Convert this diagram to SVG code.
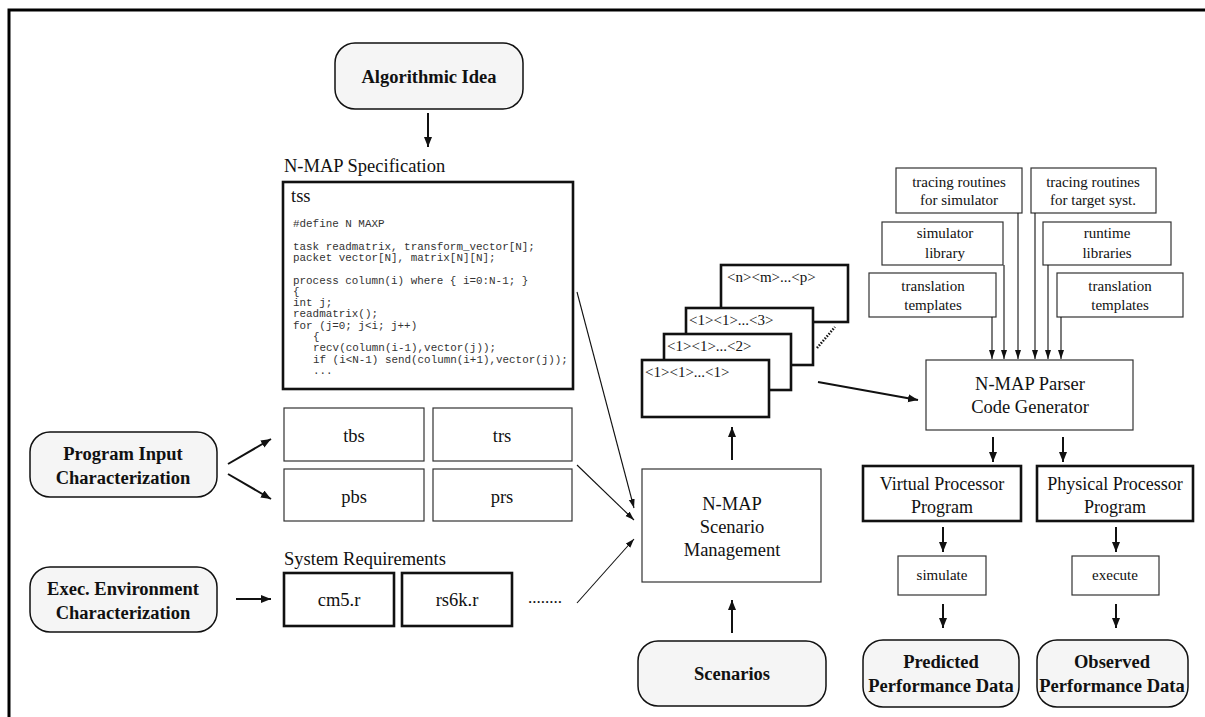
<svg xmlns="http://www.w3.org/2000/svg" width="1205" height="717" viewBox="0 0 1205 717">
<style>
.t{font-family:"Liberation Serif","Times New Roman",serif;fill:#111;}
.b{font-weight:bold;font-size:18.5px;}
.n{font-size:18.5px;}
.s{font-size:15px;}
.code{font-family:"Liberation Mono","Courier New",monospace;font-size:10.9px;fill:#333;}
.rb{fill:#f5f5f5;stroke:#111;stroke-width:1.5;}
.pb{fill:#fff;stroke:#333;stroke-width:1.2;}
.tb{fill:#fff;stroke:#111;stroke-width:2.6;}
.c1{stroke:#111;stroke-width:1.1;fill:none;}
.c2{stroke:#111;stroke-width:2;fill:none;}
</style>
<defs>
<marker id="ah" markerUnits="userSpaceOnUse" markerWidth="11" markerHeight="9" refX="10" refY="4" orient="auto"><path d="M0,0 L10,4 L0,8 z" fill="#111"/></marker>
<marker id="ahs" markerUnits="userSpaceOnUse" markerWidth="10" markerHeight="7" refX="9" refY="3" orient="auto"><path d="M0,0 L9,3 L0,6 z" fill="#111"/></marker>
</defs>
<rect width="1205" height="717" fill="#fff"/>
<path d="M9,717 L9,10 L1205,10" fill="none" stroke="#000" stroke-width="3"/>

<g id="algorithmic-idea">
<rect class="rb" x="335" y="43" width="188" height="66" rx="20"/>
<text class="t b" x="429" y="83" text-anchor="middle">Algorithmic Idea</text>
</g>

<g id="nmap-spec">
<text class="t n" x="284" y="172">N-MAP Specification</text>
<rect class="tb" x="283" y="182" width="290" height="207"/>
<text class="t" x="291" y="202" font-size="18.5">tss</text>
<text class="code" x="293" y="227">#define N MAXP</text>
<text class="code" x="293" y="249.6">task readmatrix, transform_vector[N];</text>
<text class="code" x="293" y="260.9">packet vector[N], matrix[N][N];</text>
<text class="code" x="293" y="283.5">process column(i) where { i=0:N-1; }</text>
<text class="code" x="293" y="294.8">{</text>
<text class="code" x="293" y="306.1">int j;</text>
<text class="code" x="293" y="317.4">readmatrix();</text>
<text class="code" x="293" y="328.7">for (j=0; j&lt;i; j++)</text>
<text class="code" x="313" y="340">{</text>
<text class="code" x="313" y="351.3">recv(column(i-1),vector(j));</text>
<text class="code" x="313" y="362.6">if (i&lt;N-1) send(column(i+1),vector(j));</text>
<text class="code" x="313" y="373.9">...</text>
</g>

<g id="tbs"><rect class="pb" x="284" y="408" width="140" height="53"/><text class="t n" x="354" y="442" text-anchor="middle">tbs</text></g>
<g id="trs"><rect class="pb" x="433" y="408" width="139" height="53"/><text class="t n" x="502" y="442" text-anchor="middle">trs</text></g>
<g id="pbs"><rect class="pb" x="284" y="469" width="140" height="52"/><text class="t n" x="354" y="503" text-anchor="middle">pbs</text></g>
<g id="prs"><rect class="pb" x="433" y="469" width="139" height="52"/><text class="t n" x="502" y="503" text-anchor="middle">prs</text></g>

<g id="program-input">
<rect class="rb" x="30" y="432" width="187" height="65" rx="20"/>
<text class="t b" x="123" y="460" text-anchor="middle">Program Input</text>
<text class="t b" x="123" y="484" text-anchor="middle">Characterization</text>
</g>

<g id="exec-env">
<rect class="rb" x="30" y="567" width="187" height="65" rx="20"/>
<text class="t b" x="123" y="595" text-anchor="middle">Exec. Environment</text>
<text class="t b" x="123" y="619" text-anchor="middle">Characterization</text>
</g>

<g id="system-requirements">
<text class="t n" x="284" y="565">System Requirements</text>
</g>
<g id="cm5"><rect class="tb" x="284" y="573" width="110" height="53"/><text class="t n" x="339" y="606" text-anchor="middle">cm5.r</text></g>
<g id="rs6k"><rect class="tb" x="402" y="573" width="110" height="53"/><text class="t n" x="457" y="606" text-anchor="middle">rs6k.r</text></g>
<g id="more-req"><text class="t" x="528" y="603" font-size="17">........</text></g>

<g id="scenario-mgmt">
<rect class="pb" x="642" y="469" width="179" height="113"/>
<text class="t n" x="732" y="510" text-anchor="middle">N-MAP</text>
<text class="t n" x="732" y="533" text-anchor="middle">Scenario</text>
<text class="t n" x="732" y="556" text-anchor="middle">Management</text>
</g>

<g id="scenarios">
<rect class="rb" x="638" y="641" width="188" height="65" rx="20"/>
<text class="t b" x="732" y="680" text-anchor="middle">Scenarios</text>
</g>

<g id="scenario-stack">
<rect class="tb" x="721" y="265" width="127" height="57"/>
<text class="t s" x="727" y="282">&lt;n&gt;&lt;m&gt;...&lt;p&gt;</text>
<rect class="tb" x="686" y="308" width="127" height="57"/>
<text class="t s" x="689" y="325">&lt;1&gt;&lt;1&gt;...&lt;3&gt;</text>
<rect class="tb" x="664" y="334" width="127" height="56"/>
<text class="t s" x="667" y="351">&lt;1&gt;&lt;1&gt;...&lt;2&gt;</text>
<rect class="tb" x="642" y="360" width="127" height="57"/>
<text class="t s" x="645" y="377">&lt;1&gt;&lt;1&gt;...&lt;1&gt;</text>
<line x1="817" y1="348" x2="835" y2="327" stroke="#111" stroke-width="2.5" stroke-dasharray="1.5,1.5"/>
</g>

<g id="trace-sim"><rect class="pb" x="896" y="168" width="126" height="45"/><text class="t s" x="959" y="187" text-anchor="middle">tracing routines</text><text class="t s" x="959" y="205" text-anchor="middle">for simulator</text></g>
<g id="trace-target"><rect class="pb" x="1031" y="168" width="125" height="45"/><text class="t s" x="1093" y="187" text-anchor="middle">tracing routines</text><text class="t s" x="1093" y="205" text-anchor="middle">for target syst.</text></g>
<g id="sim-lib"><rect class="pb" x="882" y="222" width="121" height="43"/><text class="t s" x="945" y="238" text-anchor="middle">simulator</text><text class="t s" x="945" y="258" text-anchor="middle">library</text></g>
<g id="runtime-lib"><rect class="pb" x="1043" y="222" width="128" height="43"/><text class="t s" x="1107" y="238" text-anchor="middle">runtime</text><text class="t s" x="1107" y="258" text-anchor="middle">libraries</text></g>
<g id="templates-left"><rect class="pb" x="869" y="273" width="127" height="44"/><text class="t s" x="933" y="291" text-anchor="middle">translation</text><text class="t s" x="933" y="310" text-anchor="middle">templates</text></g>
<g id="templates-right"><rect class="pb" x="1057" y="273" width="126" height="44"/><text class="t s" x="1120" y="291" text-anchor="middle">translation</text><text class="t s" x="1120" y="310" text-anchor="middle">templates</text></g>

<g id="parser">
<rect class="pb" x="926" y="360" width="207" height="70"/>
<text class="t n" x="1030" y="390" text-anchor="middle">N-MAP Parser</text>
<text class="t n" x="1030" y="413" text-anchor="middle">Code Generator</text>
</g>

<g id="virtual-proc"><rect class="tb" x="863" y="466" width="158" height="55"/><text class="t" font-size="18" x="942" y="490" text-anchor="middle">Virtual Processor</text><text class="t" font-size="18" x="942" y="513" text-anchor="middle">Program</text></g>
<g id="physical-proc"><rect class="tb" x="1037" y="466" width="156" height="55"/><text class="t" font-size="18" x="1115" y="490" text-anchor="middle">Physical Processor</text><text class="t" font-size="18" x="1115" y="513" text-anchor="middle">Program</text></g>

<g id="simulate"><rect class="pb" x="898" y="556" width="88" height="39"/><text class="t" x="942" y="580" font-size="15" text-anchor="middle">simulate</text></g>
<g id="execute"><rect class="pb" x="1072" y="556" width="87" height="39"/><text class="t" x="1115" y="580" font-size="15" text-anchor="middle">execute</text></g>

<g id="predicted"><rect class="rb" x="863" y="640" width="156" height="67" rx="20"/><text class="t b" x="941" y="668" text-anchor="middle">Predicted</text><text class="t b" x="941" y="692" text-anchor="middle">Performance Data</text></g>
<g id="observed"><rect class="rb" x="1037" y="640" width="151" height="67" rx="20"/><text class="t b" x="1112" y="668" text-anchor="middle">Observed</text><text class="t b" x="1112" y="692" text-anchor="middle">Performance Data</text></g>

<g id="connectors">
<line class="c2" x1="428" y1="113" x2="428" y2="147" marker-end="url(#ah)"/>
<line class="c1" x1="577" y1="292" x2="634" y2="508" marker-end="url(#ahs)"/>
<line class="c1" x1="577" y1="465" x2="634" y2="520" marker-end="url(#ahs)"/>
<line class="c1" x1="577" y1="603" x2="634" y2="539" marker-end="url(#ahs)"/>
<line class="c2" x1="228" y1="464" x2="271" y2="439" marker-end="url(#ah)"/>
<line class="c2" x1="228" y1="474" x2="271" y2="499" marker-end="url(#ah)"/>
<line class="c2" x1="236" y1="599" x2="271" y2="599" marker-end="url(#ah)"/>
<line class="c2" x1="732" y1="633" x2="732" y2="600" marker-end="url(#ah)"/>
<line class="c2" x1="732" y1="460" x2="732" y2="427" marker-end="url(#ah)"/>
<line class="c2" x1="818" y1="382" x2="918" y2="400" marker-end="url(#ah)"/>
<line class="c1" x1="992" y1="317" x2="992" y2="359" marker-end="url(#ahs)"/>
<line class="c1" x1="1004" y1="265" x2="1004" y2="359" marker-end="url(#ahs)"/>
<line class="c1" x1="1018" y1="213" x2="1018" y2="359" marker-end="url(#ahs)"/>
<line class="c1" x1="1035" y1="213" x2="1035" y2="359" marker-end="url(#ahs)"/>
<line class="c1" x1="1048" y1="265" x2="1048" y2="359" marker-end="url(#ahs)"/>
<line class="c1" x1="1061" y1="317" x2="1061" y2="359" marker-end="url(#ahs)"/>
<line class="c2" x1="993" y1="437" x2="993" y2="462" marker-end="url(#ah)"/>
<line class="c2" x1="1063" y1="437" x2="1063" y2="462" marker-end="url(#ah)"/>
<line class="c2" x1="943" y1="527" x2="943" y2="552" marker-end="url(#ah)"/>
<line class="c2" x1="1116" y1="527" x2="1116" y2="552" marker-end="url(#ah)"/>
<line class="c2" x1="943" y1="604" x2="943" y2="628" marker-end="url(#ah)"/>
<line class="c2" x1="1116" y1="604" x2="1116" y2="628" marker-end="url(#ah)"/>
</g>
</svg>
